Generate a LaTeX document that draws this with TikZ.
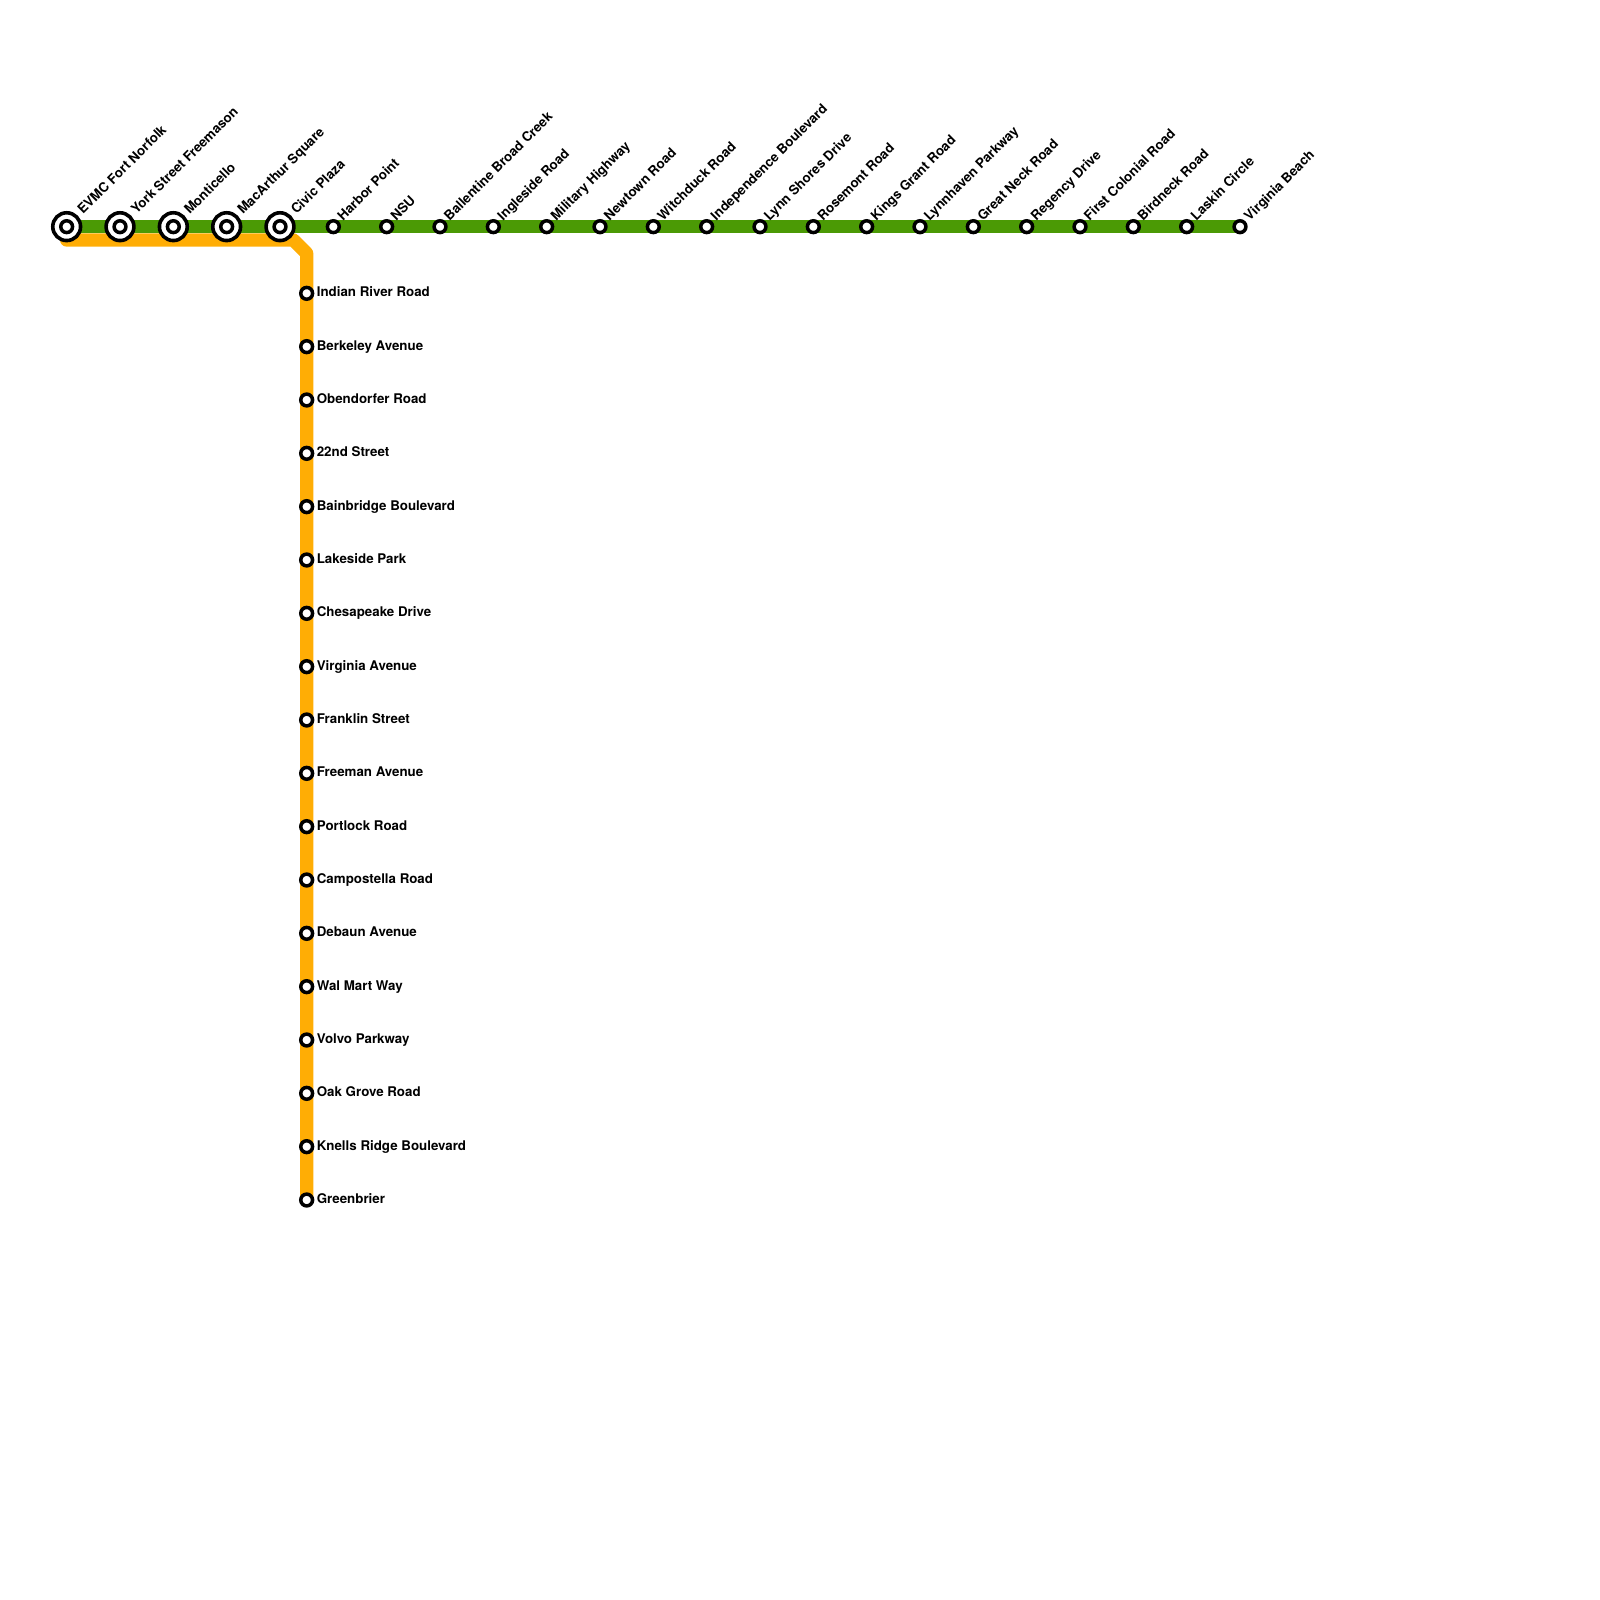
\documentclass[tikz,border=0pt]{standalone}
\usepackage{fontspec}
\setmainfont{TeX Gyre Heros}
\definecolor{lineG}{HTML}{4B9A05}
\definecolor{lineO}{HTML}{FFAD05}
\tikzset{x=1pt,y=-1pt,
  route/.style={line width=13.33pt,line join=round},
  xstn/.style={circle,draw=black,fill=white,line width=3.6pt,minimum size=27.8pt,inner sep=0pt,outer sep=0pt},
  sstn/.style={circle,draw=black,fill=white,line width=3.5pt,minimum size=11.8pt,inner sep=0pt,outer sep=0pt},
  lab/.style={anchor=base west,inner sep=0pt,outer sep=0pt,font=\fontsize{13.33pt}{15pt}\selectfont\bfseries},
  dlab/.style={lab,rotate=45}}
\begin{document}
\begin{tikzpicture}
\useasboundingbox (0,0) rectangle (1600,1600);
\coordinate (G0) at (66.67,226.67);
\coordinate (G1) at (1240,226.67);
\coordinate (O0) at (66.67,240);
\coordinate (O1) at (293.33,240);
\coordinate (O2) at (306.67,253.33);
\coordinate (O3) at (306.67,1200);
\draw[route,lineO,line cap=round] (O0) -- (O1) -- (O2) -- (O3);
\draw[route,lineG] (G0) -- (G1);
\foreach \t [count=\i from 0] in {EVMC Fort Norfolk,York Street Freemason,Monticello,MacArthur Square,Civic Plaza}{
  \pgfmathsetmacro{\px}{66.67+53.333*\i}
  \node[xstn] (x\i) at (\px,226.67) {};
  \node[sstn] (y\i) at (\px,226.67) {};
  \node[dlab] (t\i) at (\px+16.5,226.67-11.7) {\t};
}
\foreach \t [count=\i from 5] in {Harbor Point,NSU,Ballentine Broad Creek,Ingleside Road,Military Highway,Newtown Road,Witchduck Road,Independence Boulevard,Lynn Shores Drive,Rosemont Road,Kings Grant Road,Lynnhaven Parkway,Great Neck Road,Regency Drive,First Colonial Road,Birdneck Road,Laskin Circle,Virginia Beach}{
  \pgfmathsetmacro{\px}{66.67+53.333*\i}
  \node[sstn] (s\i) at (\px,226.67) {};
  \node[dlab] (u\i) at (\px+9.7,226.67-5.3) {\t};
}
\foreach \t [count=\i from 0] in {Indian River Road,Berkeley Avenue,Obendorfer Road,22nd Street,Bainbridge Boulevard,Lakeside Park,Chesapeake Drive,Virginia Avenue,Franklin Street,Freeman Avenue,Portlock Road,Campostella Road,Debaun Avenue,Wal Mart Way,Volvo Parkway,Oak Grove Road,Knells Ridge Boulevard,Greenbrier}{
  \pgfmathsetmacro{\py}{293.33+53.333*\i}
  \node[sstn] (v\i) at (306.67,\py) {};
  \node[lab] (w\i) at (316.8,\py+3.5) {\t};
}
\end{tikzpicture}
\end{document}
